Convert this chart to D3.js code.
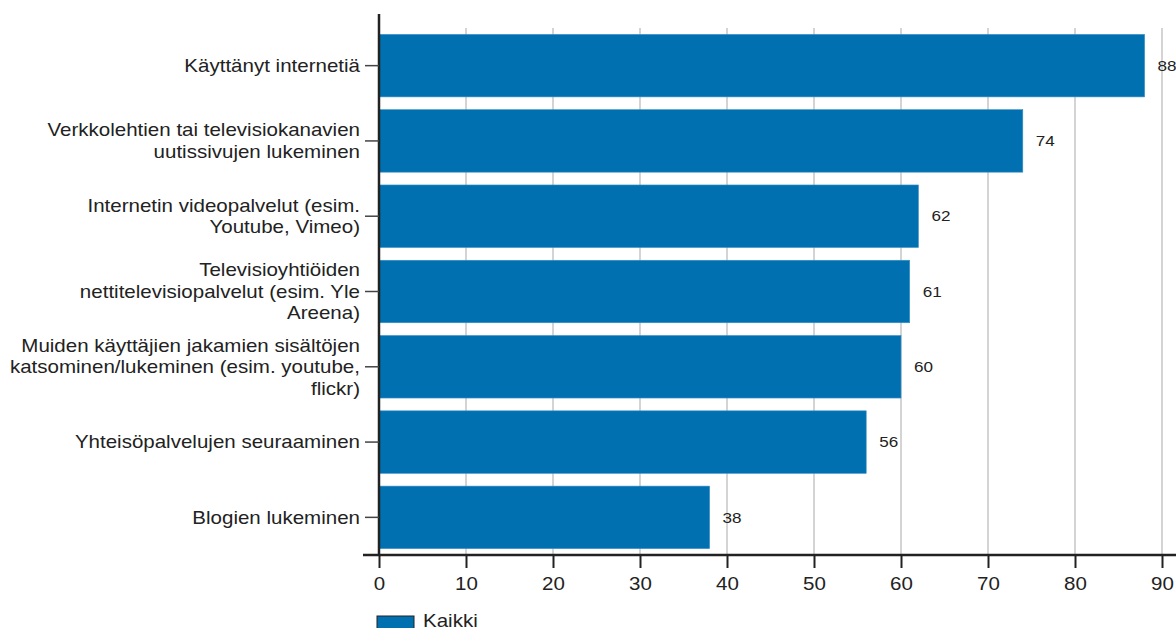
<!DOCTYPE html>
<html>
<head>
<meta charset="utf-8">
<script src="https://cdn.jsdelivr.net/npm/d3@7"></script>
<style>
  body { margin: 0; background: #fff; }
  svg { font-family: "Liberation Sans", Arial, sans-serif; }
</style>
</head>
<body>
<div id="chart"></div>
<script>
// data
// ---------------------------------------------------
const categories = [
    ["Käyttänyt internetiä"],
    ["Verkkolehtien tai televisiokanavien", "uutissivujen lukeminen"],
    ["Internetin videopalvelut (esim.", "Youtube, Vimeo)"],
    ["Televisioyhtiöiden", "nettitelevisiopalvelut (esim. Yle", "Areena)"],
    ["Muiden käyttäjien jakamien sisältöjen", "katsominen/lukeminen (esim. youtube,", "flickr)"],
    ["Yhteisöpalvelujen seuraaminen"],
    ["Blogien lukeminen"]
];
const values = [88, 74, 62, 61, 60, 56, 38];
const xTicks = [0, 10, 20, 30, 40, 50, 60, 70, 80, 90];
const seriesName = "Kaikki";

// layout
// ---------------------------------------------------
const width = 1176, height = 628;
const plotLeft = 379, plotRight = 1162, plotTop = 28, plotBottom = 555;
const barColor = "#0070b0";
const textColor = "#222";
// the source picture is a little wider than tall, text included
const stretch = 1.14;

let svg = d3.select("#chart").append("svg")
    .attr("width", width)
    .attr("height", height);

let xScale = d3.scaleLinear()
    .domain([0, 90])
    .range([plotLeft, plotRight]);

let yScale = d3.scaleBand()
    .domain(d3.range(categories.length))
    .range([plotTop, plotBottom])
    .paddingInner(0.17)
    .paddingOuter(0.085);

// gridlines
svg.append("g")
    .selectAll("line")
    .data(xTicks.filter(d => d > 0))
    .enter()
    .append("line")
        .attr("x1", d => xScale(d))
        .attr("x2", d => xScale(d))
        .attr("y1", plotTop)
        .attr("y2", plotBottom)
        .attr("stroke", "#d4d4d4")
        .attr("stroke-width", 2);

// bars
svg.append("g")
    .selectAll("rect")
    .data(values)
    .enter()
    .append("rect")
        .attr("x", xScale(0))
        .attr("y", (d, i) => yScale(i))
        .attr("width", d => xScale(d) - xScale(0))
        .attr("height", yScale.bandwidth())
        .attr("fill", barColor)
        .attr("stroke", "#3a8fc4")
        .attr("stroke-width", 0.6);

// value labels
svg.append("g")
    .selectAll("text")
    .data(values)
    .enter()
    .append("text")
        .attr("transform", (d, i) => `translate(${xScale(d) + 13}, ${yScale(i) + yScale.bandwidth() / 2}) scale(${stretch}, 1)`)
        .attr("dy", "0.35em")
        .attr("font-size", 15)
        .attr("fill", textColor)
        .text(d => d);

// x axis
let xAxis = svg.append("g")
    .attr("transform", `translate(0, ${plotBottom})`)
    .call(d3.axisBottom(xScale).tickValues(xTicks).tickSize(13).tickSizeOuter(0));
xAxis.select(".domain").remove();
xAxis.selectAll(".tick line").attr("stroke", textColor).attr("stroke-width", 2);
xAxis.selectAll(".tick text")
    .attr("font-size", 18)
    .attr("fill", textColor)
    .attr("y", 0)
    .attr("dy", null)
    .attr("transform", `translate(0, 35) scale(${stretch}, 1)`)
    .attr("font-family", "Liberation Sans, Arial, sans-serif");
svg.append("line")
    .attr("x1", 363).attr("x2", width)
    .attr("y1", plotBottom).attr("y2", plotBottom)
    .attr("stroke", textColor).attr("stroke-width", 2.5);

// y axis
svg.append("line")
    .attr("x1", plotLeft).attr("x2", plotLeft)
    .attr("y1", 14).attr("y2", plotBottom)
    .attr("stroke", textColor).attr("stroke-width", 2.5);

let yTicks = svg.append("g")
    .selectAll("g")
    .data(categories)
    .enter()
    .append("g")
        .attr("transform", (d, i) => `translate(${plotLeft}, ${yScale(i) + yScale.bandwidth() / 2})`);

yTicks.append("line")
    .attr("x1", -14).attr("x2", 0)
    .attr("stroke", "#444").attr("stroke-width", 1.5);

yTicks.append("text")
    .attr("text-anchor", "end")
    .attr("font-size", 18)
    .attr("fill", textColor)
    .attr("transform", `translate(-19, 0) scale(${stretch}, 1)`)
    .each((d, i, nodes) => {
        let lineHeight = 21.5;
        let y0 = -(d.length - 1) * lineHeight / 2;
        d3.select(nodes[i]).selectAll("tspan")
            .data(d)
            .enter()
            .append("tspan")
                .attr("x", 0)
                .attr("y", (t, j) => y0 + j * lineHeight)
                .attr("dy", "0.35em")
                .text(t => t);
    });

// legend
let legend = svg.append("g")
    .attr("transform", "translate(377, 616)");
legend.append("rect")
    .attr("width", 37)
    .attr("height", 14)
    .attr("fill", barColor)
    .attr("stroke", textColor)
    .attr("stroke-width", 1);
legend.append("text")
    .attr("transform", `translate(46, 11) scale(${stretch}, 1)`)
    .attr("font-size", 18)
    .attr("fill", textColor)
    .text(seriesName);
</script>
</body>
</html>
